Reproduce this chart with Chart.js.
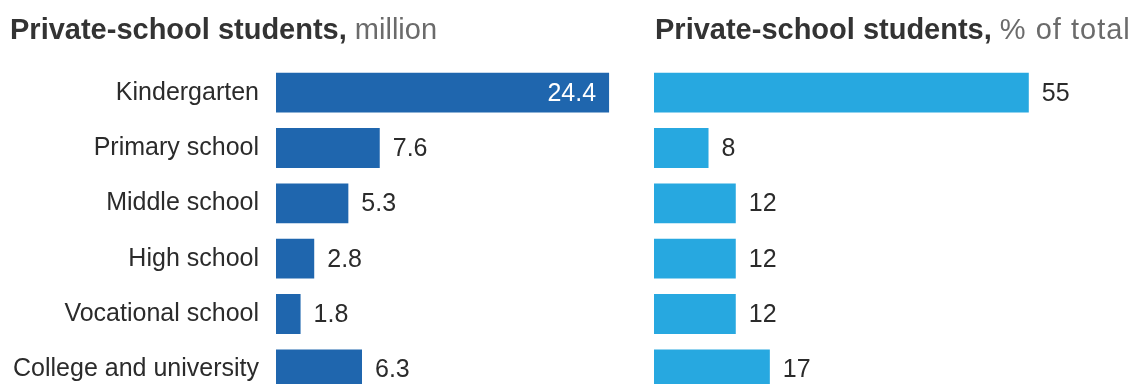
<!DOCTYPE html>
<html>
<head>
<meta charset="utf-8">
<title>Private-school students</title>
<script src="https://cdn.jsdelivr.net/npm/chart.js@4.4.0/dist/chart.umd.min.js"></script>
<style>
  html, body { margin: 0; padding: 0; background: #fff; overflow: hidden; }
  #wrap { position: relative; width: 1131px; height: 384px; overflow: hidden; }
  .panel { position: absolute; top: 0; height: 400px; }
  #leftPanel { left: 0; width: 620px; }
  #rightPanel { left: 640px; width: 491px; }
  .title {
    position: absolute; top: 13px; white-space: nowrap;
    font: 700 29px 'Liberation Sans', Arial, sans-serif; color: #333;
  }
  .title span { font-weight: 400; color: #6b6b6b; }
  .title span.wide { letter-spacing: 1px; }
</style>
</head>
<body>
<div id="wrap">
  <div class="panel" id="leftPanel"><canvas id="millionChart"></canvas></div>
  <div class="panel" id="rightPanel"><canvas id="shareChart"></canvas></div>
  <div class="title" style="left:10px">Private-school students, <span>million</span></div>
  <div class="title" style="left:655px">Private-school students, <span class="wide">% of total</span></div>
</div>
<script>
const categories = ['Kindergarten', 'Primary school', 'Middle school', 'High school', 'Vocational school', 'College and university']
const studentsMillion = [24.4, 7.6, 5.3, 2.8, 1.8, 6.3]
const shareOfTotal = [55, 8, 12, 12, 12, 17]

const FONT = "'Liberation Sans', Arial, sans-serif"
const TEXT = '#2b2b2b'

// draws the number at the end of every bar (inside for the long ones)
const valueLabels = {
  id: 'valueLabels',
  afterDatasetsDraw(chart, args, opts) {
    const { ctx } = chart
    const meta = chart.getDatasetMeta(0)
    const data = chart.data.datasets[0].data
    ctx.save()
    ctx.font = `25px ${FONT}`
    ctx.textBaseline = 'middle'
    meta.data.forEach((bar, i) => {
      const v = data[i]
      const txt = opts.format(v)
      if (opts.inside && opts.inside(v)) {
        ctx.fillStyle = '#fff'
        ctx.textAlign = 'right'
        ctx.fillText(txt, bar.x - 13, bar.y + 1)
      } else {
        ctx.fillStyle = TEXT
        ctx.textAlign = 'left'
        ctx.fillText(txt, bar.x + 13, bar.y + 1)
      }
    })
    ctx.restore()
  }
}

function barOptions(max, yAxis, labelOpts, padLeft) {
  return {
    indexAxis: 'y',
    responsive: true,
    maintainAspectRatio: false,
    animation: false,
    layout: { padding: { top: 65, bottom: 3, left: padLeft, right: 0 } },
    scales: {
      x: { display: false, min: 0, max: max },
      y: yAxis
    },
    plugins: {
      legend: { display: false },
      tooltip: { enabled: false },
      valueLabels: labelOpts
    }
  }
}

new Chart(document.getElementById('millionChart'), {
  type: 'bar',
  data: {
    labels: categories,
    datasets: [{
      data: studentsMillion,
      backgroundColor: '#1f66ae',
      barPercentage: 0.72,
      categoryPercentage: 1
    }]
  },
  options: barOptions(25.2, {
    grid: { display: false, drawTicks: false },
    border: { display: false },
    ticks: { color: TEXT, padding: 17, font: { family: FONT, size: 25 } },
    // fixed label column, and no extra room for half-labels at the ends
    afterFit: axis => {
      axis.width = 276
      axis.paddingTop = 0
      axis.paddingBottom = 0
    }
  }, {
    format: v => v.toFixed(1),
    inside: v => v > 20
  }, 0),
  plugins: [valueLabels]
})

new Chart(document.getElementById('shareChart'), {
  type: 'bar',
  data: {
    labels: categories,
    datasets: [{
      data: shareOfTotal,
      backgroundColor: '#27a8e0',
      barPercentage: 0.72,
      categoryPercentage: 1
    }]
  },
  options: barOptions(70, { display: false }, {
    format: v => String(v)
  }, 14),
  plugins: [valueLabels]
})
</script>
</body>
</html>
